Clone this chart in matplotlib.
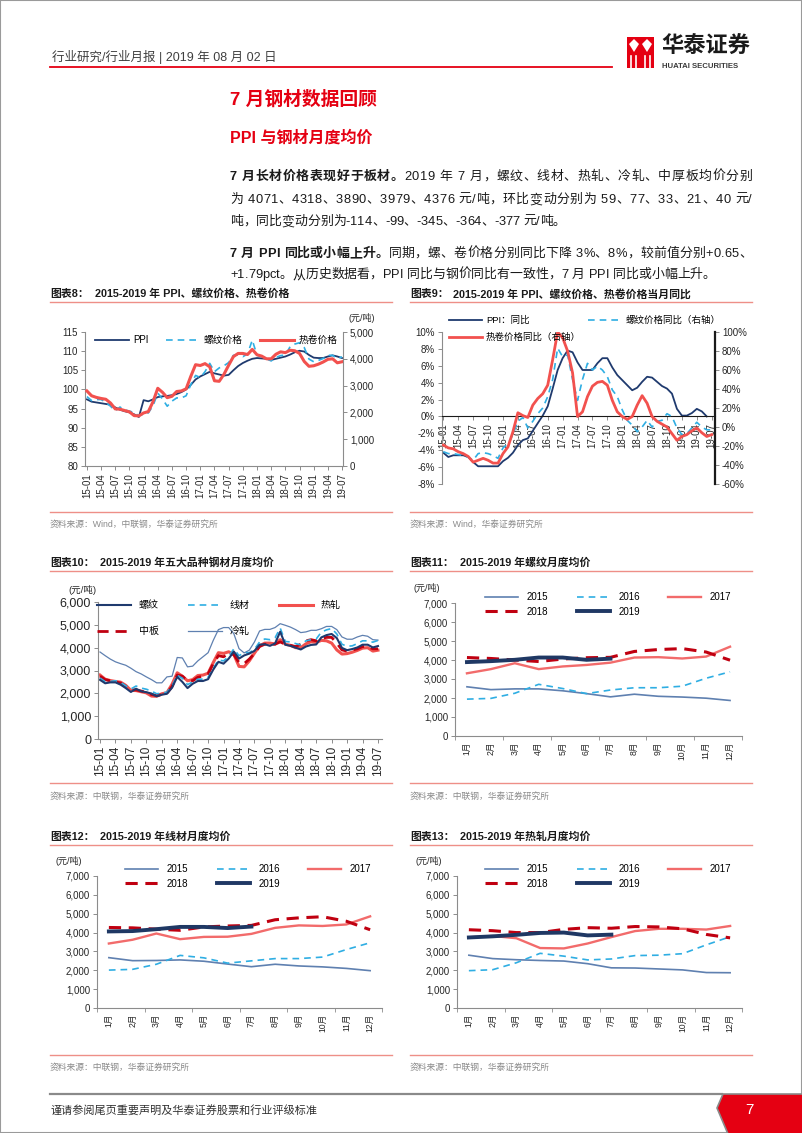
import matplotlib
matplotlib.use('Agg')
import numpy as np
import matplotlib.pyplot as plt
from matplotlib.lines import Line2D
from matplotlib.patches import Rectangle, Polygon
from matplotlib.ticker import FuncFormatter

plt.rcParams['font.family'] = ['Liberation Sans', 'Noto Sans CJK SC']
plt.rcParams['axes.unicode_minus'] = False

# ---------------- data ----------------
months = [f'{y}-{m:02d}' for y in range(15, 20) for m in range(1, 13)][:55]
cal_months = [f'{m}月' for m in range(1, 13)]
years = ['2015', '2016', '2017', '2018', '2019']

# rebar (螺纹) monthly average, yuan/t
rebar_2015 = [2590, 2440, 2480, 2480, 2380, 2230, 2060, 2200, 2090, 2050, 1990, 1870]
rebar_2016 = [1940, 1980, 2250, 2720, 2500, 2230, 2420, 2540, 2540, 2620, 3040, 3380]
rebar_2017 = [3300, 3520, 3830, 3520, 3660, 3740, 3860, 4130, 4150, 4080, 4180, 4700]
rebar_2018 = [4130, 4080, 4000, 3920, 4050, 4120, 4140, 4450, 4550, 4600, 4420, 3990]
rebar_2019 = [3890, 3940, 4010, 4130, 4130, 4010, 4071]

# wire rod (线材)
wire_2015 = [2670, 2510, 2520, 2550, 2480, 2330, 2190, 2320, 2230, 2180, 2100, 1980]
wire_2016 = [2010, 2050, 2320, 2790, 2660, 2380, 2500, 2620, 2620, 2700, 3100, 3460]
wire_2017 = [3420, 3620, 3950, 3650, 3770, 3780, 3930, 4250, 4380, 4350, 4430, 4860]
wire_2018 = [4270, 4250, 4180, 4120, 4300, 4350, 4380, 4680, 4780, 4840, 4600, 4150]
wire_2019 = [4060, 4080, 4180, 4300, 4300, 4240, 4318]

# hot rolled (热轧)
hot_2015 = [2800, 2620, 2560, 2520, 2490, 2350, 2130, 2120, 2070, 2020, 1880, 1870]
hot_2016 = [1980, 2030, 2400, 2900, 2750, 2550, 2600, 2780, 2800, 2880, 3350, 3780]
hot_2017 = [3750, 3820, 3700, 3180, 3160, 3420, 3760, 4080, 4200, 4200, 4160, 4350]
hot_2018 = [4150, 4100, 4000, 4000, 4170, 4260, 4230, 4320, 4300, 4200, 3900, 3720]
hot_2019 = [3740, 3800, 3880, 3980, 4000, 3850, 3890]

# medium plate (中板) 2015-01 .. 2019-07
plate = [2750, 2600, 2550, 2500, 2450, 2300, 2150, 2150, 2100, 2050, 1950, 1900,
         1950, 2000, 2300, 2800, 2750, 2550, 2550, 2700, 2750, 2850, 3300, 3650,
         3600, 3750, 3700, 3350, 3300, 3500, 3750, 4050, 4150, 4150, 4150, 4250,
         4150, 4100, 4050, 4150, 4300, 4350, 4300, 4400, 4450, 4450, 4200, 3900,
         3850, 3900, 3950, 4050, 4050, 3950, 3950]

# cold rolled (冷轧)
cold = [3810, 3650, 3500, 3380, 3300, 3230, 3100, 2950, 2850, 2720, 2600, 2460,
        2460, 2720, 2750, 3570, 3550, 3160, 3190, 3420, 3600, 3780, 4320, 4790,
        4880, 4880, 4610, 3960, 3770, 3890, 4250, 4730, 4800, 4800, 4880, 5050,
        4980, 4900, 4790, 4660, 4690, 4760, 4760, 4830, 4930, 4930, 4790, 4470,
        4370, 4370, 4470, 4540, 4500, 4350, 4330]

# PPI level (left axis of chart 8)
ppi_level = [97.4, 96.8, 96.6, 96.4, 96.2, 96.0, 95.3, 94.7, 94.3, 94.0, 93.5, 92.8,
             97.2, 96.9, 97.4, 98.0, 98.2, 98.3, 98.5, 98.8, 99.3, 100.0, 101.2, 102.6,
             103.4, 104.0, 104.6, 104.2, 103.9, 103.6, 103.8, 105.0, 106.1, 106.9, 107.5, 108.0,
             108.2, 108.1, 108.0, 107.7, 108.0, 108.3, 108.6, 109.1, 109.7, 110.1, 109.9, 109.0,
             108.3, 108.2, 108.2, 108.6, 108.9, 108.6, 108.2]

# year-on-year, %
ppi_yoy = [-4.3, -4.8, -4.6, -4.6, -4.6, -4.8, -5.4, -5.9, -5.9, -5.9, -5.9, -5.9,
           -5.3, -4.9, -4.3, -3.4, -2.8, -2.6, -1.7, -0.8, 0.1, 1.2, 3.3, 5.5,
           6.9, 7.8, 7.6, 6.4, 5.5, 5.5, 5.5, 6.3, 6.9, 6.9, 5.8, 4.9,
           4.3, 3.7, 3.1, 3.4, 4.1, 4.7, 4.6, 4.1, 3.6, 3.3, 2.7, 0.9,
           0.1, 0.1, 0.4, 0.9, 0.6, 0.0, np.nan]
rebar_yoy = [-26, -28, -28, -29, -30, -32, -35, -28, -27, -28, -30, -33,
             -22, -18, -8, 6, 10, -1, 6, 14, 20, 32, 50, 83,
             74, 76, 50, 28, 50, 67, 60, 64, 60, 53, 39, 32,
             18, 7, 2, -5, 0, 7, 0, 6, 7, 14, 11, -1,
             -8, -7, -1, 5, 0, -3, -3]
hot_yoy = [-19, -22, -23, -26, -28, -31, -37, -35, -33, -35, -38, -38,
           -28, -21, -5, 15, 12, 10, 23, 30, 35, 44, 71, 100,
           94, 80, 57, 11, 16, 32, 43, 47, 48, 44, 28, 16,
           11, 8, 11, 23, 33, 25, 11, 6, 3, 0, -7, -14,
           -10, -8, -4, -1, -6, -10, -8]

rebar = rebar_2015 + rebar_2016 + rebar_2017 + rebar_2018 + rebar_2019
wire = wire_2015 + wire_2016 + wire_2017 + wire_2018 + wire_2019
hot = hot_2015 + hot_2016 + hot_2017 + hot_2018 + hot_2019

# ---------------- layout helpers ----------------
W, H = 802, 1133
fig = plt.figure(figsize=(W / 100, H / 100), dpi=100)
renderer = fig.canvas.get_renderer()


def fx(x):
    return x / W


def fy(y):
    return 1 - y / H


def axes_px(l, t, r, b):
    return fig.add_axes([fx(l), fy(b), (r - l) / W, (b - t) / H])


def hline(x0, x1, y, color, lw):
    fig.add_artist(Line2D([fx(x0), fx(x1)], [fy(y), fy(y)], color=color, lw=lw,
                          transform=fig.transFigure))


def txt(x, y, s, **kw):
    kw.setdefault('va', 'center')
    kw.setdefault('ha', 'left')
    return fig.text(fx(x), fy(y), s, **kw)


_wcache = {}


def char_w(c, weight, size):
    key = (c, weight, size)
    if key not in _wcache:
        if c == ' ':
            a = fig.text(0, 0, 'a a', fontsize=size, weight=weight)
            b = fig.text(0, 0, 'aa', fontsize=size, weight=weight)
            w = a.get_window_extent(renderer).width - b.get_window_extent(renderer).width
            a.remove()
            b.remove()
        else:
            t = fig.text(0, 0, c, fontsize=size, weight=weight)
            w = t.get_window_extent(renderer).width
            t.remove()
        _wcache[key] = w
    return _wcache[key]


def draw_run(segments, x0, y, size, x1=None, color='#1a1a1a'):
    chars = [(c, w) for s, w in segments for c in s]
    widths = [char_w(c, w, size) for c, w in chars]
    gap = 0
    if x1 is not None:
        gap = (x1 - x0 - sum(widths)) / (len(chars) - 1)
    x = x0
    for (c, w), cw in zip(chars, widths):
        if c != ' ':
            txt(x, y, c, fontsize=size, weight=w, color=color)
        x += cw + gap


NAVY = '#1F3A6E'
CYAN = '#2FAEE3'
RED = '#F2514E'
DARKRED = '#C00010'
SLATE = '#5F80B0'
SALMON = '#F26B6B'
GRAY = '#8C8C8C'
TXT = '#262626'
HT_RED = '#E50012'
RULE = '#EE8F88'

comma = FuncFormatter(lambda v, p: f'{int(v):,}')
pct = FuncFormatter(lambda v, p: f'{int(v)}%')


def base_style(ax, size=7):
    for s in ['top', 'right']:
        ax.spines[s].set_visible(False)
    for s in ['left', 'bottom']:
        ax.spines[s].set_color(GRAY)
        ax.spines[s].set_linewidth(0.8)
    ax.tick_params(labelsize=size, colors=TXT, length=3, width=0.7, pad=2)
    ax.tick_params(axis='both', color=GRAY)
    ax.set_facecolor('none')


def legend(ax, handles, ncol, x, y, size=7, hl=3.5, htp=0.5, cs=1.8, ls=0.5):
    ax.legend(handles=handles, loc='upper left', bbox_to_anchor=(fx(x), fy(y)),
              bbox_transform=fig.transFigure, ncol=ncol, frameon=False, borderpad=0,
              borderaxespad=0, fontsize=size, handlelength=hl, handletextpad=htp,
              columnspacing=cs, labelspacing=ls)


# ---------------- page furniture ----------------
fig.add_artist(Rectangle((0, 0), 1, 1, transform=fig.transFigure, fill=False,
                         edgecolor='#9a9a9a', lw=1.5))
txt(52, 57, '行业研究/行业月报 | 2019 年 08 月 02 日', fontsize=9, color='#404040')
hline(50, 612, 67, HT_RED, 1.3)

# logo
fig.add_artist(Rectangle((fx(627), fy(68)), 27 / W, 31 / H, transform=fig.transFigure,
                         color=HT_RED, lw=0))
for cx in (634, 647):
    fig.add_artist(Polygon([(fx(cx - 5), fy(44)), (fx(cx), fy(39)), (fx(cx + 5), fy(44)),
                            (fx(cx), fy(52))], closed=True, transform=fig.transFigure,
                           color='white', lw=0))
for sx in (631, 636, 645, 650):
    fig.add_artist(Line2D([fx(sx), fx(sx)], [fy(56), fy(68)], color='white', lw=1.2,
                          transform=fig.transFigure))
txt(661, 47, '华泰证券', fontsize=16, weight='bold', color='#1a1a1a')
txt(662, 66, 'HUATAI SECURITIES', fontsize=5.6, weight='bold', color='#3a3a3a')

txt(230, 100, '7 月钢材数据回顾', fontsize=13.5, weight='bold', color=HT_RED)
txt(230, 138, 'PPI 与钢材月度均价', fontsize=11.5, weight='bold', color=HT_RED)

BODY = 9.3
draw_run([('7 月长材价格表现好于板材。', 'bold'),
          ('2019 年 7 月，螺纹、线材、热轧、冷轧、中厚板均价分别', 'normal')], 230, 177, BODY, 752)
draw_run([('为 4071、4318、3890、3979、4376 元/吨，环比变动分别为 59、77、33、21、40 元/', 'normal')],
         230, 200, BODY, 752)
draw_run([('吨，同比变动分别为-114、-99、-345、-364、-377 元/吨。', 'normal')], 230, 222, BODY)
draw_run([('7 月 PPI 同比或小幅上升。', 'bold'),
          ('同期，螺、卷价格分别同比下降 3%、8%，较前值分别+0.65、', 'normal')], 230, 254, BODY, 752)
draw_run([('+1.79pct。从历史数据看，PPI 同比与钢价同比有一致性，7 月 PPI 同比或小幅上升。', 'normal')],
         230, 275, BODY)

# chart titles, rules and sources
titles = [(50, 95, 294, '图表8：', '2015-2019 年 PPI、螺纹价格、热卷价格'),
          (410, 453, 294, '图表9：', '2015-2019 年 PPI、螺纹价格、热卷价格当月同比'),
          (50, 100, 563, '图表10：', '2015-2019 年五大品种钢材月度均价'),
          (410, 460, 563, '图表11：', '2015-2019 年螺纹月度均价'),
          (50, 100, 837, '图表12：', '2015-2019 年线材月度均价'),
          (410, 460, 837, '图表13：', '2015-2019 年热轧月度均价')]
for x0, x1, y, a, b in titles:
    txt(x0, y, a, fontsize=7.8, weight='bold', color='#1a1a1a')
    txt(x1, y, b, fontsize=7.8, weight='bold', color='#1a1a1a')
    hline(x0, x0 + 342, y + 8, RULE, 1.0)

sources = [(50, 524, 512, '资料来源：Wind，中联钢，华泰证券研究所'),
           (410, 524, 512, '资料来源：Wind，华泰证券研究所'),
           (50, 796, 783, '资料来源：中联钢，华泰证券研究所'),
           (410, 796, 783, '资料来源：中联钢，华泰证券研究所'),
           (50, 1067, 1055, '资料来源：中联钢，华泰证券研究所'),
           (410, 1067, 1055, '资料来源：中联钢，华泰证券研究所')]
for x, y, ry, s in sources:
    hline(x, x + 342, ry, RULE, 1.0)
    txt(x, y, s, fontsize=6.3, color='#8a8a8a')

# footer
hline(50, 722, 1094, '#8a8a8a', 1.6)
fig.add_artist(Polygon([(fx(723), fy(1094)), (fx(803), fy(1094)), (fx(803), fy(1134)),
                        (fx(728), fy(1134)), (fx(717), fy(1108))], closed=True,
                       transform=fig.transFigure, facecolor=HT_RED, edgecolor='#8a8a8a', lw=1.2))
txt(749, 1110, '7', fontsize=11, color='white', ha='center')
txt(50, 1111, '谨请参阅尾页重要声明及华泰证券股票和行业评级标准', fontsize=8, color='#303030')

x_m = np.arange(55)

# ---------------- chart 8 ----------------
ax8 = axes_px(85, 332, 343, 466)
ax8r = ax8.twinx()
l_ppi, = ax8.plot(x_m, ppi_level, color=NAVY, lw=1.3, label='PPI')
l_reb, = ax8r.plot(x_m, rebar, color=CYAN, lw=1.2, ls=(0, (4, 3)), label='螺纹价格')
l_hot, = ax8r.plot(x_m, hot, color=RED, lw=2.2, label='热卷价格')
ax8.set_xlim(-0.4, 54.2)
ax8.set_ylim(80, 115)
ax8.set_yticks(range(80, 116, 5))
ax8r.set_ylim(0, 5000)
ax8r.set_yticks(range(0, 5001, 1000))
ax8r.yaxis.set_major_formatter(comma)
ax8.set_xticks(x_m[::3])
ax8.set_xticklabels(months[::3])
base_style(ax8)
base_style(ax8r)
ax8.tick_params(axis='x', labelrotation=90)
ax8r.spines['right'].set_visible(True)
ax8r.spines['right'].set_color(GRAY)
ax8r.spines['left'].set_visible(False)
ax8r.spines['bottom'].set_visible(False)
legend(ax8r, [l_ppi, l_reb, l_hot], 3, 95, 335, size=7, hl=3.5, htp=0.4, cs=1.8)
txt(362, 318, '(元/吨)', fontsize=6.5, color=TXT, ha='center')

# ---------------- chart 9 ----------------
ax9 = axes_px(442, 332, 715, 484)
ax9r = ax9.twinx()
p1, = ax9.plot(x_m, ppi_yoy, color=NAVY, lw=1.3, label='PPI：同比')
p2, = ax9r.plot(x_m, rebar_yoy, color=CYAN, lw=1.2, ls=(0, (4, 3)), label='螺纹价格同比（右轴）')
p3, = ax9r.plot(x_m, hot_yoy, color=RED, lw=2.0, label='热卷价格同比（右轴）')
ax9.spines['bottom'].set_position(('data', 0))
ax9.set_xlim(-0.27, 54.66)
ax9.set_ylim(-8, 10)
ax9.set_yticks(range(-8, 11, 2))
ax9.yaxis.set_major_formatter(pct)
ax9r.set_ylim(-60, 100)
ax9r.set_yticks(range(-60, 101, 20))
ax9r.yaxis.set_major_formatter(pct)
ax9.set_xticks(x_m[::3])
ax9.set_xticklabels(months[::3])
base_style(ax9)
base_style(ax9r)
ax9.tick_params(axis='x', labelrotation=90)
ax9.spines['bottom'].set_color('#1a1a1a')
ax9r.spines['bottom'].set_visible(False)
ax9r.spines['left'].set_visible(False)
ax9r.spines['right'].set_visible(True)
ax9r.spines['right'].set_color('#1a1a1a')
ax9r.spines['right'].set_linewidth(1.6)
legend(ax9r, [p1, p3, p2], 2, 449, 316, size=6.8, hl=3.5, htp=0.4, cs=0.8, ls=0.8)

# ---------------- chart 10 ----------------
ax10 = axes_px(98, 602, 382, 739)
c_cold, = ax10.plot(x_m, cold, color=SLATE, lw=0.9, label='冷轧')
c_hot, = ax10.plot(x_m, hot, color=RED, lw=2.2, label='热轧')
c_plate, = ax10.plot(x_m, plate, color=DARKRED, lw=2.0, ls=(0, (4, 2.5)), label='中板')
c_wire, = ax10.plot(x_m, wire, color=CYAN, lw=1.2, ls=(0, (4, 3)), label='线材')
c_reb, = ax10.plot(x_m, rebar, color=NAVY, lw=1.5, label='螺纹')
ax10.set_xlim(-0.39, 54.78)
ax10.set_ylim(0, 6000)
ax10.set_yticks(range(0, 6001, 1000))
ax10.yaxis.set_major_formatter(comma)
ax10.set_xticks(x_m[::3])
ax10.set_xticklabels(months[::3])
base_style(ax10, size=9)
ax10.tick_params(axis='x', labelsize=8.5, labelrotation=90)
legend(ax10, [c_reb, c_plate, c_wire, c_cold, c_hot], 3, 97, 600, size=7.2, hl=3.4,
       htp=0.8, cs=2.9, ls=1.6)
txt(82, 590, '(元/吨)', fontsize=6.8, color=TXT, ha='center')


# ---------------- charts 11-13 ----------------
def year_chart(box, series, leg_x, leg_y, unit_xy):
    ax = axes_px(*box)
    styles = [dict(color=SLATE, lw=1.2),
              dict(color=CYAN, lw=1.2, ls=(0, (4, 3))),
              dict(color=SALMON, lw=1.7),
              dict(color=DARKRED, lw=2.2, ls=(0, (4, 2.5))),
              dict(color='#1F3864', lw=2.8)]
    lines = []
    for yr, vals, st in zip(years, series, styles):
        ln, = ax.plot(np.arange(len(vals)), vals, label=yr, **st)
        lines.append(ln)
    ax.set_xlim(-0.5, 11.5)
    ax.set_ylim(0, 7000)
    ax.set_yticks(range(0, 7001, 1000))
    ax.yaxis.set_major_formatter(comma)
    ax.set_xticks(np.arange(12))
    ax.set_xticklabels(cal_months)
    ax.set_xticks(np.arange(-0.5, 12, 2), minor=True)
    base_style(ax)
    ax.tick_params(axis='x', which='major', length=0, labelsize=6.2, pad=4, labelrotation=90)
    ax.tick_params(axis='x', which='minor', length=3, color=GRAY)
    legend(ax, [lines[0], lines[3], lines[1], lines[4], lines[2]], 3, leg_x, leg_y,
           size=7, hl=3.4, htp=0.9, cs=2.9, ls=0.5)
    txt(unit_xy[0], unit_xy[1], '(元/吨)', fontsize=6.5, color=TXT, ha='center')
    return ax


year_chart((455, 603, 742, 736),
           [rebar_2015, rebar_2016, rebar_2017, rebar_2018, rebar_2019], 485, 592, (427, 588))
year_chart((97, 876, 382, 1008),
           [wire_2015, wire_2016, wire_2017, wire_2018, wire_2019], 125, 864, (69, 861))
year_chart((457, 876, 742, 1008),
           [hot_2015, hot_2016, hot_2017, hot_2018, hot_2019], 485, 864, (429, 861))

fig.savefig('out.png', dpi=100)
